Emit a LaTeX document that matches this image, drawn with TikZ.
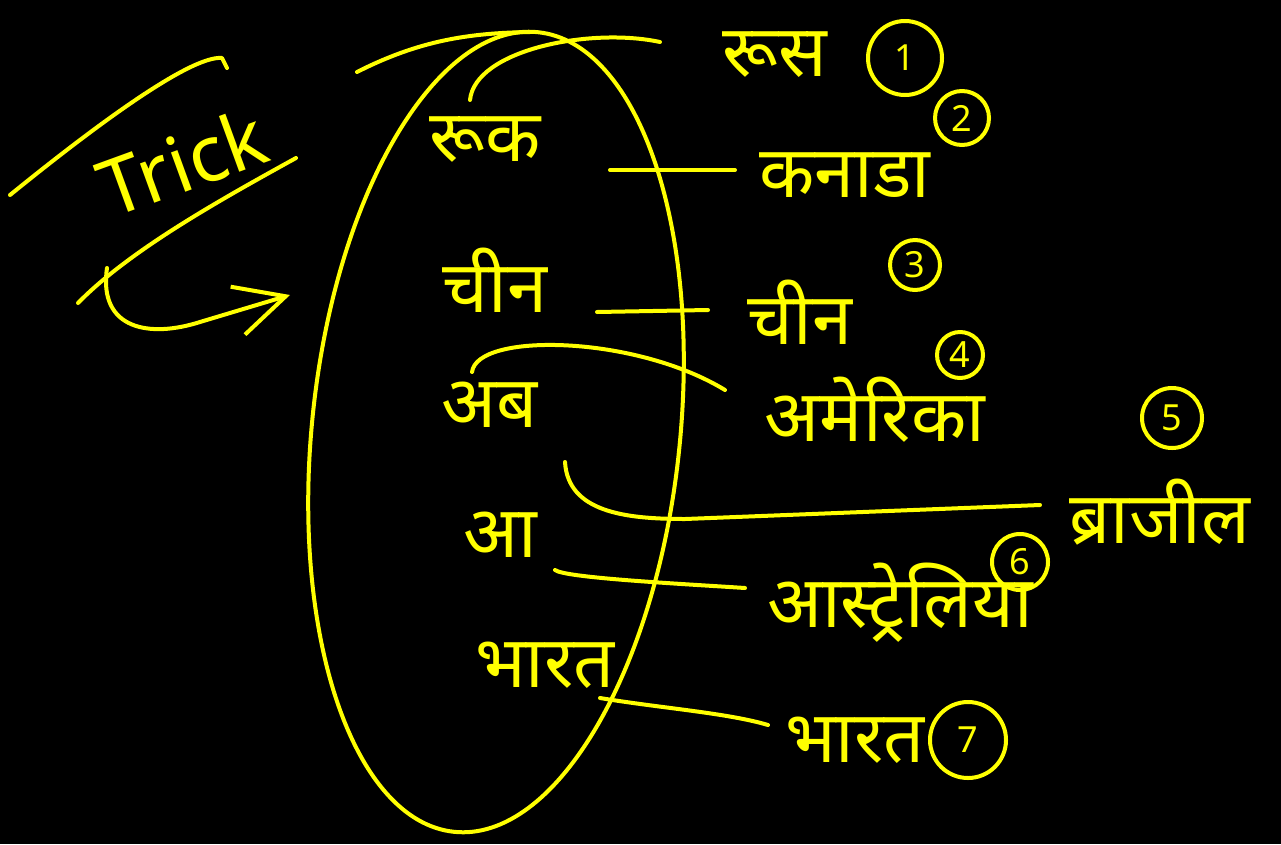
\documentclass[tikz,border=0pt]{standalone}
\usepackage{fontspec}
\newfontfamily\hindi[Script=Devanagari]{Noto Sans}
\usetikzlibrary{arrows.meta}
\definecolor{marker}{RGB}{255,255,0}
\begin{document}
\begin{tikzpicture}[x=1pt,y=-1pt,line cap=round,line join=round,
	ink/.style={draw=marker,line width=4pt},
	word/.style={text=marker,inner sep=0pt,font=\hindi\fontsize{72}{78}\selectfont},
	num/.style={circle,draw=marker,line width=4pt,text=marker,inner sep=0pt,font=\hindi\fontsize{36}{38}\selectfont}]
	\fill[black] (0,0) rectangle (1281,844);
	% trick
	\node[text=marker,rotate=20,inner sep=0pt,font=\hindi\fontsize{78}{82}\selectfont] (trick) at (182,162) {Trick};
	\draw[ink] (10,195) .. controls (90,130) and (190,55) .. (222,58) -- (227,68);
	\draw[ink] (296,158) .. controls (220,200) and (130,250) .. (78,303);
	\draw[ink,-{Straight Barb[length=50pt,width=50pt]}] (107,268) .. controls (98,330) and (150,338) .. (200,322) .. controls (240,310) .. (290,295);
	% ellipse
	\draw[ink,rotate around={-6:(496,432)}] (496,432) ellipse [x radius=184pt,y radius=402pt];
	\draw[ink] (357,72) .. controls (420,40) and (470,33) .. (530,32);
	% left words
	\node[word] (ruk) at (485,140) {रूक};
	\node[word] (cheenL) at (495,280) {चीन};
	\node[word] (ab) at (490,405) {अब};
	\node[word] (aa) at (500,535) {आ};
	\node[word] (bharatL) at (545,665) {भारत};
	% right words
	\node[word] (rus) at (775,55) {रूस};
	\node[word] (kanada) at (845,175) {कनाडा};
	\node[word] (cheenR) at (800,312) {चीन};
	\node[word] (amerika) at (875,410) {अमेरिका};
	\node[word] (brazil) at (1160,512) {ब्राजील};
	\node[word] (aus) at (900,603) {आस्ट्रेलिया};
	\node[word] (bharatR) at (855,740) {भारत};
	% numbers
	\node[num,minimum size=74pt] (n1) at (905,58) {1};
	\node[num,minimum size=54pt] (n2) at (962,118) {2};
	\node[num,minimum size=50pt] (n3) at (915,265) {3};
	\node[num,minimum size=46pt] (n4) at (960,355) {4};
	\node[num,minimum size=60pt] (n5) at (1172,418) {5};
	\node[num,minimum size=56pt] (n6) at (1020,562) {6};
	\node[num,minimum size=76pt] (n7) at (968,740) {7};
	% connectors
	\draw[ink] ([shift={(-15,-40)}]ruk.center) .. controls +(5,-50) and +(-70,-15) .. ([shift={(-115,-13)}]rus.center);
	\draw[ink] ([shift={(125,30)}]ruk.center) -- ([shift={(-110,-5)}]kanada.center);
	\draw[ink] ([shift={(102,32)}]cheenL.center) -- ([shift={(-92,-2)}]cheenR.center);
	\draw[ink] ([shift={(-18,-33)}]ab.center) .. controls +(5,-40) and +(-90,-55) .. ([shift={(-150,-20)}]amerika.center);
	\draw[ink] ([shift={(75,57)}]ab.center) .. controls +(3,50) and +(-60,0) .. ++(120,57) -- ([shift={(-120,-7)}]brazil.center);
	\draw[ink] ([shift={(55,35)}]aa.center) .. controls +(10,8) and +(-60,-4) .. ([shift={(-155,-15)}]aus.center);
	\draw[ink] ([shift={(55,33)}]bharatL.center) .. controls +(60,10) and +(-40,-12) .. ([shift={(-87,-15)}]bharatR.center);
\end{tikzpicture}
\end{document}
